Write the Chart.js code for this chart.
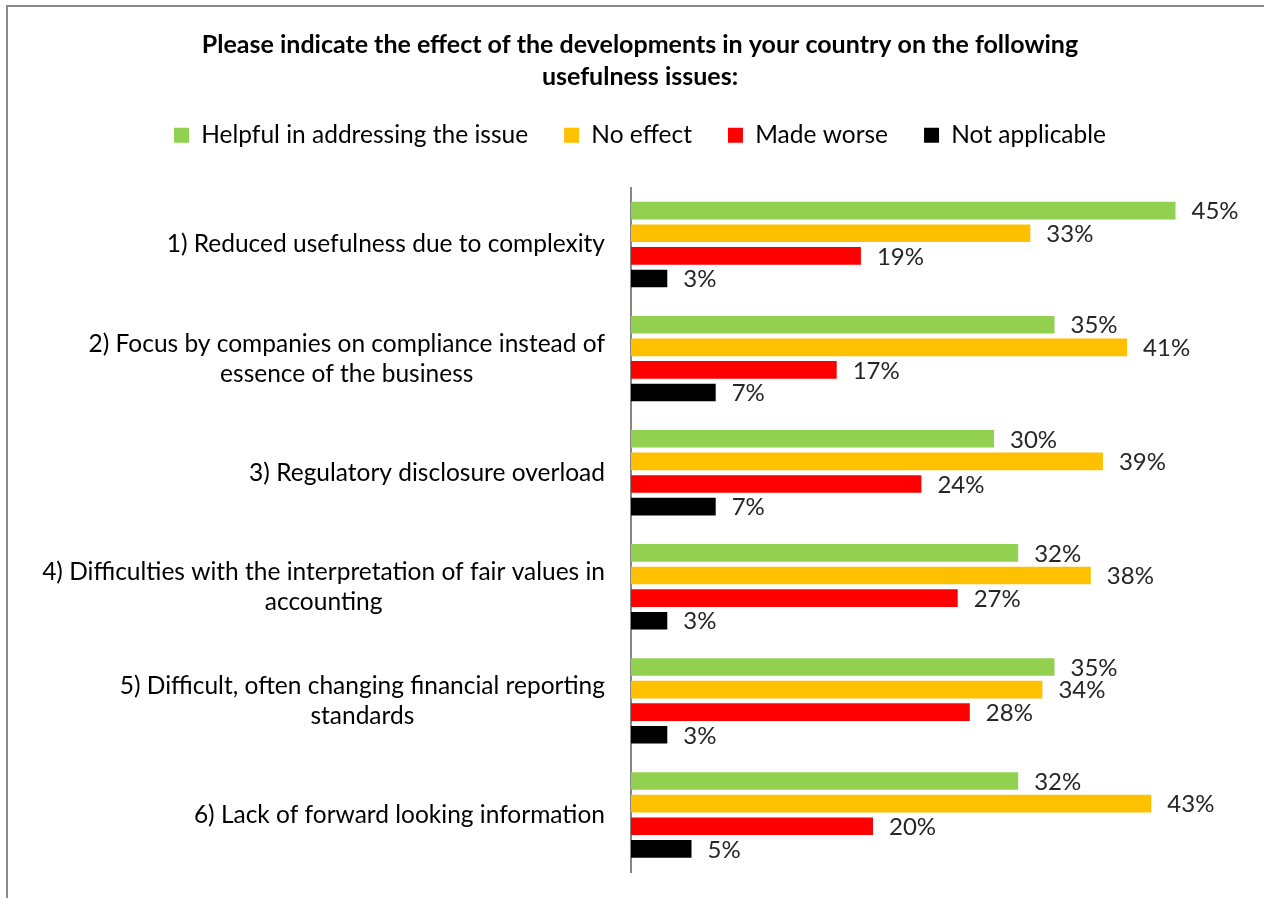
<!DOCTYPE html>
<html>
<head>
<meta charset="utf-8">
<title>Usefulness issues</title>
<script src="https://cdn.jsdelivr.net/npm/chart.js@4.4.1/dist/chart.umd.min.js"></script>
<style>
  html, body { margin: 0; padding: 0; background: #fff; overflow: hidden; }
  .frame { position: absolute; left: 6px; top: 5px; width: 1300px; height: 940px; border: 2px solid #8a8a8a; }
  .wrap { position: absolute; left: 0; top: 0; width: 1264px; height: 898px; }
</style>
</head>
<body>
<div class="frame"></div>
<div class="wrap"><canvas id="chart"></canvas></div>
<script>
// survey answers, percent of respondents per issue
var categories = [
    ['1) Reduced usefulness due to complexity'],
    ['2) Focus by companies on compliance instead of', 'essence of the business'],
    ['3) Regulatory disclosure overload'],
    ['4) Difficulties with the interpretation of fair values in', 'accounting'],
    ['5) Difficult, often changing financial reporting', 'standards'],
    ['6) Lack of forward looking information']
];
var helpful = [45, 35, 30, 32, 35, 32];
var noEffect = [33, 41, 39, 38, 34, 43];
var madeWorse = [19, 17, 24, 27, 28, 20];
var notApplicable = [3, 7, 7, 3, 3, 5];
var seriesNames = ['Helpful in addressing the issue', 'No effect', 'Made worse', 'Not applicable'];
var seriesColors = ['#92D050', '#FFC000', '#FF0000', '#000000'];

var FONT = 'Lato, "Open Sans", sans-serif';
var LABEL_LINE = 30;

// category names: block right-aligned against the axis, lines centred among themselves
var categoryLabels = {
    id: 'categoryLabels',
    afterDraw: function(chart) {
        var ctx = chart.ctx;
        var yScale = chart.scales.y;
        var right = chart.chartArea.left - 26;
        ctx.save();
        ctx.font = '24.5px ' + FONT;
        ctx.fillStyle = '#000';
        ctx.textAlign = 'center';
        ctx.textBaseline = 'middle';
        categories.forEach(function(lines, i) {
            var widest = 0;
            lines.forEach(function(l) { widest = Math.max(widest, ctx.measureText(l).width); });
            var cx = right - widest / 2;
            var y0 = yScale.getPixelForTick(i) - (lines.length - 1) * LABEL_LINE / 2;
            lines.forEach(function(l, j) { ctx.fillText(l, cx, y0 + j * LABEL_LINE); });
        });
        ctx.restore();
    }
};

// "45%" style labels just past the end of every bar
var valueLabels = {
    id: 'valueLabels',
    afterDatasetsDraw: function(chart) {
        var ctx = chart.ctx;
        ctx.save();
        ctx.font = '24px ' + FONT;
        ctx.fillStyle = '#262626';
        ctx.textAlign = 'left';
        ctx.textBaseline = 'middle';
        chart.data.datasets.forEach(function(ds, di) {
            var meta = chart.getDatasetMeta(di);
            meta.data.forEach(function(bar, i) {
                ctx.fillText(ds.data[i] + '%', bar.x + 16, bar.y + 1);
            });
        });
        ctx.restore();
    }
};

var seriesData = [helpful, noEffect, madeWorse, notApplicable];
var datasets = seriesData.map(function(values, i) {
    return {
        label: seriesNames[i],
        data: values,
        backgroundColor: seriesColors[i],
        borderWidth: 0,
        categoryPercentage: 0.793,
        barPercentage: 0.78
    };
});

new Chart(document.getElementById('chart'), {
    type: 'bar',
    data: {
        labels: categories.map(function(c) { return c.join(' '); }),
        datasets: datasets
    },
    options: {
        indexAxis: 'y',
        responsive: true,
        maintainAspectRatio: false,
        animation: false,
        layout: { padding: { left: 44, right: 28, top: 0, bottom: 26 } },
        plugins: {
            title: {
                display: true,
                text: ['Please indicate the effect of the developments in your country on the following', 'usefulness issues:'],
                color: '#000',
                font: { family: FONT, size: 25, weight: 'bold', lineHeight: 1.28 },
                padding: { top: 29, bottom: -6 }
            },
            legend: {
                position: 'top',
                labels: {
                    boxWidth: 15,
                    boxHeight: 15,
                    padding: 36,
                    color: '#000',
                    font: { family: FONT, size: 24.5 }
                }
            },
            tooltip: { enabled: false }
        },
        scales: {
            x: {
                position: 'top',
                min: 0,
                max: 50,
                ticks: { display: false },
                grid: { display: false },
                border: { display: false },
                afterFit: function(scale) { scale.height = 30; }
            },
            y: {
                ticks: { display: false },
                grid: { display: false },
                border: { display: true, color: '#868686', width: 2 },
                afterFit: function(scale) { scale.width = 587; }
            }
        }
    },
    plugins: [categoryLabels, valueLabels]
});
</script>
</body>
</html>
